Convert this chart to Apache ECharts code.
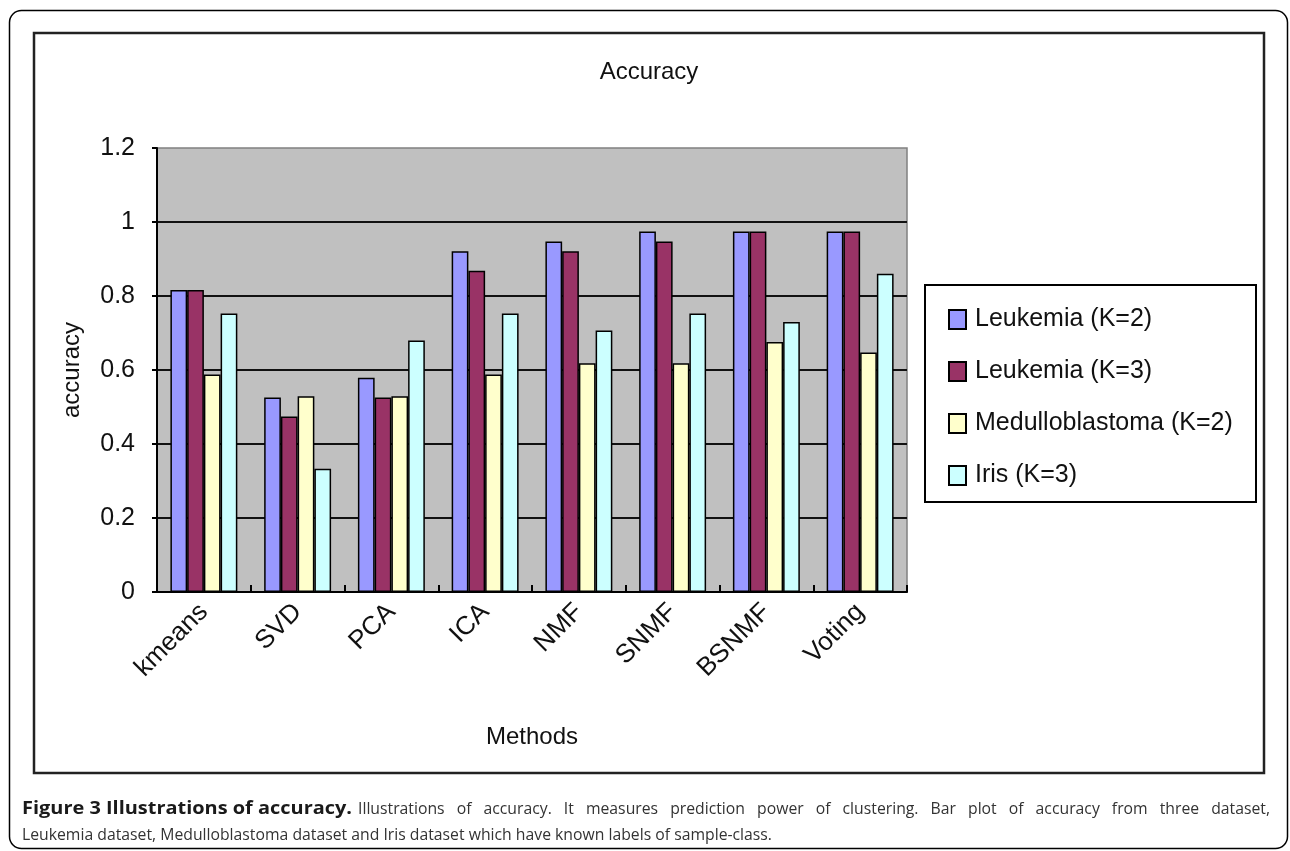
<!DOCTYPE html>
<html><head><meta charset="utf-8">
<script src="https://cdn.jsdelivr.net/npm/echarts@6/dist/echarts.min.js"></script>
<style>html,body{margin:0;padding:0;background:#fff;}#c{width:1290px;height:851px;}</style>
</head><body><div id="c"></div>
<script>
const categories = ['kmeans', 'SVD', 'PCA', 'ICA', 'NMF', 'SNMF', 'BSNMF', 'Voting'];
const seriesNames = ['Leukemia (K=2)', 'Leukemia (K=3)', 'Medulloblastoma (K=2)', 'Iris (K=3)'];
const leukemiaK2 = [0.816, 0.526, 0.579, 0.921, 0.947, 0.974, 0.974, 0.974];
const leukemiaK3 = [0.816, 0.474, 0.526, 0.868, 0.921, 0.947, 0.974, 0.974];
const medulloK2 = [0.588, 0.529, 0.529, 0.588, 0.618, 0.618, 0.676, 0.647];
const irisK3 = [0.753, 0.333, 0.680, 0.753, 0.707, 0.753, 0.730, 0.860];
const yTickLabels = ['0', '0.2', '0.4', '0.6', '0.8', '1', '1.2'];
const chartTitle = 'Accuracy';
const xAxisTitle = 'Methods';
const yAxisTitle = 'accuracy';
const captionBold = 'Figure 3 Illustrations of accuracy.';
const captionRest1 = 'Illustrations of accuracy. It measures prediction power of clustering. Bar plot of accuracy from three dataset,';
const captionLine2 = 'Leukemia dataset, Medulloblastoma dataset and Iris dataset which have known labels of sample-class.';

const seriesColors = ['#9999FF', '#993366', '#FFFFCC', '#CCFFFF'];
const seriesData = [leukemiaK2, leukemiaK3, medulloK2, irisK3];
const AX = 'Liberation Sans';

// caption layout: condensed text, first line justified
const cv = document.createElement('canvas').getContext('2d');
function tw(font, s) { cv.font = font; return cv.measureText(s).width; }
const capSize = 17;
const fN = capSize + 'px "Open Sans"';
const fB = 'bold ' + capSize + 'px "Open Sans"';
const capLeft = 22, capRight = 1270, boldRight = 352, restLeft = 358, line2Right = 772;
const sN = (line2Right - capLeft) / tw(fN, captionLine2);
const sB = (boldRight - capLeft) / tw(fB, captionBold);
const capEls = [
  { type: 'text', x: capLeft, y: 809, scaleX: sB, z: 5,
    style: { text: captionBold, font: fB, fill: '#1a1a1a', textAlign: 'left', textVerticalAlign: 'middle' } },
  { type: 'text', x: capLeft, y: 835, scaleX: sN, z: 5,
    style: { text: captionLine2, font: fN, fill: '#333', textAlign: 'left', textVerticalAlign: 'middle' } }
];
const words = captionRest1.split(' ').map(w => ({ w, width: tw(fN, w) * sN }));
const wordsW = words.reduce((a, o) => a + o.width, 0);
const gapW = (capRight - restLeft - wordsW) / (words.length - 1);
let cx = restLeft;
words.forEach(o => {
  capEls.push({ type: 'text', x: cx, y: 809, scaleX: sN, z: 5,
    style: { text: o.w, font: fN, fill: '#333', textAlign: 'left', textVerticalAlign: 'middle' } });
  cx += o.width + gapW;
});

const chart = echarts.init(document.getElementById('c'), null, { renderer: 'canvas' });
const option = {
  backgroundColor: '#fff',
  animation: false,
  grid: {
    left: 157, top: 148, width: 750, height: 444,
    show: true, backgroundColor: '#C0C0C0', borderColor: '#808080', borderWidth: 1.5
  },
  legend: {
    orient: 'vertical', left: 943, top: 302, itemWidth: 17, itemHeight: 19, itemGap: 27, z: 10,
    icon: 'rect',
    textStyle: { fontFamily: AX, fontSize: 25, color: '#111', lineHeight: 25, padding: [0, 0, 0, 4] },
    data: seriesNames
  },
  xAxis: {
    type: 'category', data: categories,
    name: xAxisTitle, nameLocation: 'middle', nameGap: 133,
    nameTextStyle: { fontFamily: AX, fontSize: 24, color: '#111' },
    axisLine: { show: true, lineStyle: { color: '#000', width: 2 } },
    axisTick: { show: true, inside: true, length: 7, lineStyle: { color: '#000', width: 2 } },
    axisLabel: { rotate: 45, margin: 16, fontFamily: AX, fontSize: 26, color: '#111', interval: 0 },
    splitLine: { show: false }
  },
  yAxis: {
    type: 'value', min: 0, max: 1.2, interval: 0.2,
    name: yAxisTitle, nameLocation: 'middle', nameGap: 73, nameRotate: 90,
    nameTextStyle: { fontFamily: AX, fontSize: 24, color: '#111' },
    axisLine: { show: true, lineStyle: { color: '#000', width: 2 } },
    axisTick: { show: true, length: 5, lineStyle: { color: '#000', width: 2 } },
    axisLabel: {
      margin: 22, fontFamily: AX, fontSize: 25, color: '#111',
      formatter: v => yTickLabels[Math.round(v / 0.2)]
    },
    splitLine: { show: true, showMaxLine: false, lineStyle: { color: '#111', width: 2 } }
  },
  series: seriesNames.map((n, i) => ({
    name: n, type: 'bar', data: seriesData[i],
    barGap: '0%', barCategoryGap: '28.6%',
    itemStyle: { color: seriesColors[i], borderColor: '#000', borderWidth: 1.5 }
  })),
  graphic: [
    { type: 'rect', z: 0, shape: { x: 9.5, y: 10.5, width: 1278, height: 838, r: 12 },
      style: { fill: 'none', stroke: '#000', lineWidth: 1.5 } },
    { type: 'rect', z: 0, shape: { x: 34, y: 33, width: 1230, height: 740 },
      style: { fill: 'none', stroke: '#222', lineWidth: 2.5 } },
    { type: 'rect', z: 1, shape: { x: 925, y: 285, width: 331, height: 217 },
      style: { fill: '#fff', stroke: '#000', lineWidth: 2 } },
    { type: 'text', z: 5, x: 649, y: 72,
      style: { text: chartTitle, font: '24px "' + AX + '"', fill: '#111', textAlign: 'center', textVerticalAlign: 'middle' } }
  ].concat(capEls)
};
chart.setOption(option);
</script>
</body></html>
